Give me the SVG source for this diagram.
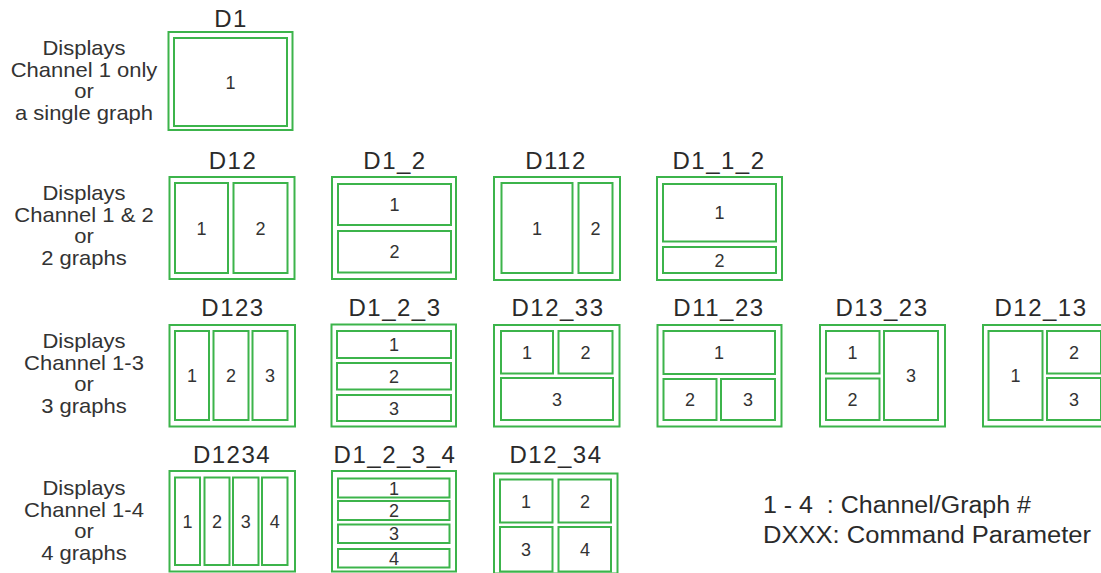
<svg xmlns="http://www.w3.org/2000/svg" width="1101" height="573" viewBox="0 0 1101 573">
<style>
.o{fill:none;stroke:#3cb44b;stroke-width:2}
.i{fill:none;stroke:#3cb44b;stroke-width:2}
.t{font-family:"Liberation Sans",Arial,sans-serif;font-size:24px;fill:#2a2a2a;text-anchor:middle;letter-spacing:1.5px}
.n{font-family:"Liberation Sans",Arial,sans-serif;font-size:18px;fill:#333;text-anchor:middle}
.r{font-family:"Liberation Sans",Arial,sans-serif;font-size:20px;fill:#333;text-anchor:middle}
.l{font-family:"Liberation Sans",Arial,sans-serif;font-size:23px;fill:#2a2a2a}
</style>
<rect width="1101" height="573" fill="#fff"/>
<g id="labels" transform="translate(84,0) scale(1.1,1) translate(-84,0)">
<text class="r" x="84"><tspan x="84" y="55">Displays</tspan><tspan x="84" y="77">Channel 1 only</tspan><tspan x="84" y="98.5">or</tspan><tspan x="84" y="120">a single graph</tspan></text>
<text class="r" x="84"><tspan x="84" y="200">Displays</tspan><tspan x="84" y="222">Channel 1 &amp; 2</tspan><tspan x="84" y="243.5">or</tspan><tspan x="84" y="265">2 graphs</tspan></text>
<text class="r" x="84"><tspan x="84" y="348">Displays</tspan><tspan x="84" y="370">Channel 1-3</tspan><tspan x="84" y="391.5">or</tspan><tspan x="84" y="413">3 graphs</tspan></text>
<text class="r" x="84"><tspan x="84" y="495">Displays</tspan><tspan x="84" y="517">Channel 1-4</tspan><tspan x="84" y="538.5">or</tspan><tspan x="84" y="560">4 graphs</tspan></text>
</g>
<g id="D1">
<text class="t" x="231" y="27">D1</text>
<rect class="o" x="168.5" y="32" width="124" height="98"/>
<rect class="i" x="174" y="38" width="113" height="88"/>
<text class="n" x="230.5" y="88.5">1</text>
</g>
<g id="D12">
<text class="t" x="233" y="169">D12</text>
<rect class="o" x="169.5" y="177" width="125" height="102"/>
<rect class="i" x="175" y="183" width="53" height="90"/>
<rect class="i" x="233.5" y="183" width="54" height="90"/>
<text class="n" x="201.5" y="234.5">1</text>
<text class="n" x="260.5" y="234.5">2</text>
</g>
<g id="D1_2">
<text class="t" x="395" y="169">D1_2</text>
<rect class="o" x="332" y="177" width="124" height="102"/>
<rect class="i" x="338" y="184" width="113" height="41"/>
<rect class="i" x="338" y="231" width="113" height="41.5"/>
<text class="n" x="394.5" y="211">1</text>
<text class="n" x="394.5" y="258">2</text>
</g>
<g id="D112">
<text class="t" x="556" y="169">D112</text>
<rect class="o" x="494" y="177" width="126" height="103"/>
<rect class="i" x="501.5" y="183" width="71" height="90"/>
<rect class="i" x="578.5" y="183" width="34" height="90"/>
<text class="n" x="537" y="234.5">1</text>
<text class="n" x="595.5" y="234.5">2</text>
</g>
<g id="D1_1_2">
<text class="t" x="719" y="169">D1_1_2</text>
<rect class="o" x="657" y="177" width="125" height="103"/>
<rect class="i" x="663" y="184" width="113" height="57.5"/>
<rect class="i" x="663" y="247" width="113" height="26"/>
<text class="n" x="719.5" y="219">1</text>
<text class="n" x="719.5" y="266.5">2</text>
</g>
<g id="D123">
<text class="t" x="233" y="316">D123</text>
<rect class="o" x="169.5" y="325" width="125.5" height="101.5"/>
<rect class="i" x="175" y="331" width="34" height="89"/>
<rect class="i" x="213.5" y="331" width="35" height="89"/>
<rect class="i" x="252.5" y="331" width="35" height="89"/>
<text class="n" x="192" y="382">1</text>
<text class="n" x="231" y="382">2</text>
<text class="n" x="270" y="382">3</text>
</g>
<g id="D1_2_3">
<text class="t" x="395" y="316">D1_2_3</text>
<rect class="o" x="331.5" y="324.5" width="124.5" height="102"/>
<rect class="i" x="337" y="331" width="114" height="27"/>
<rect class="i" x="337" y="363" width="114" height="26.5"/>
<rect class="i" x="337" y="395" width="114" height="26"/>
<text class="n" x="394" y="351">1</text>
<text class="n" x="394" y="383">2</text>
<text class="n" x="394" y="414.5">3</text>
</g>
<g id="D12_33">
<text class="t" x="558" y="316">D12_33</text>
<rect class="o" x="494" y="325" width="125.5" height="101.5"/>
<rect class="i" x="501" y="331" width="52" height="42.5"/>
<rect class="i" x="558.5" y="331" width="54" height="42.5"/>
<rect class="i" x="501" y="378" width="112" height="42"/>
<text class="n" x="527" y="359">1</text>
<text class="n" x="585.5" y="359">2</text>
<text class="n" x="557" y="405.5">3</text>
</g>
<g id="D11_23">
<text class="t" x="719" y="316">D11_23</text>
<rect class="o" x="657.5" y="325" width="124" height="101.5"/>
<rect class="i" x="663.5" y="331" width="111.5" height="43"/>
<rect class="i" x="663.5" y="379" width="53" height="41"/>
<rect class="i" x="721" y="379" width="54" height="41"/>
<text class="n" x="719" y="359">1</text>
<text class="n" x="690" y="406">2</text>
<text class="n" x="748" y="406">3</text>
</g>
<g id="D13_23">
<text class="t" x="882" y="316">D13_23</text>
<rect class="o" x="820" y="325" width="125" height="101.5"/>
<rect class="i" x="826" y="331" width="53.5" height="42.5"/>
<rect class="i" x="826" y="378.5" width="53.5" height="41.5"/>
<rect class="i" x="884" y="331" width="54" height="89"/>
<text class="n" x="852.5" y="359">1</text>
<text class="n" x="852.5" y="406">2</text>
<text class="n" x="911" y="382">3</text>
</g>
<g id="D12_13">
<text class="t" x="1041" y="316">D12_13</text>
<rect class="o" x="983" y="325" width="125" height="101.5"/>
<rect class="i" x="988.5" y="331" width="54" height="89"/>
<rect class="i" x="1047" y="331" width="54" height="42.5"/>
<rect class="i" x="1047" y="378" width="54" height="42"/>
<text class="n" x="1015.5" y="382">1</text>
<text class="n" x="1074" y="359">2</text>
<text class="n" x="1074" y="405.5">3</text>
</g>
<g id="D1234">
<text class="t" x="232" y="463">D1234</text>
<rect class="o" x="169.5" y="471" width="125.5" height="100.5"/>
<rect class="i" x="175" y="477.5" width="25" height="87.5"/>
<rect class="i" x="204.5" y="477.5" width="25" height="87.5"/>
<rect class="i" x="233" y="477.5" width="25.5" height="87.5"/>
<rect class="i" x="262" y="477.5" width="25.5" height="87.5"/>
<text class="n" x="187.5" y="527.5">1</text>
<text class="n" x="217" y="527.5">2</text>
<text class="n" x="245.8" y="527.5">3</text>
<text class="n" x="274.8" y="527.5">4</text>
</g>
<g id="D1_2_3_4">
<text class="t" x="395" y="463">D1_2_3_4</text>
<rect class="o" x="332" y="471" width="124" height="100.5"/>
<rect class="i" x="338" y="478.5" width="111.5" height="19"/>
<rect class="i" x="338" y="501" width="111.5" height="19"/>
<rect class="i" x="338" y="524.5" width="111.5" height="18.5"/>
<rect class="i" x="338" y="549" width="111.5" height="18.5"/>
<text class="n" x="394" y="494.5">1</text>
<text class="n" x="394" y="517">2</text>
<text class="n" x="394" y="540">3</text>
<text class="n" x="394" y="564.5">4</text>
</g>
<g id="D12_34">
<text class="t" x="556" y="463">D12_34</text>
<rect class="o" x="494" y="473.5" width="123.5" height="100"/>
<rect class="i" x="500" y="479.5" width="52.5" height="43"/>
<rect class="i" x="558.5" y="479.5" width="52.5" height="43"/>
<rect class="i" x="500" y="527" width="52.5" height="44.5"/>
<rect class="i" x="558.5" y="527" width="52.5" height="44.5"/>
<text class="n" x="526" y="507.5">1</text>
<text class="n" x="585" y="507.5">2</text>
<text class="n" x="526" y="555.5">3</text>
<text class="n" x="585" y="555.5">4</text>
</g>
<g id="connectors"/>
<g id="legend">
<text class="l" x="763" y="512.5" xml:space="preserve" textLength="268" lengthAdjust="spacingAndGlyphs">1 - 4  : Channel/Graph #</text>
<text class="l" x="763" y="543" textLength="328" lengthAdjust="spacingAndGlyphs">DXXX: Command Parameter</text>
</g>
</svg>
